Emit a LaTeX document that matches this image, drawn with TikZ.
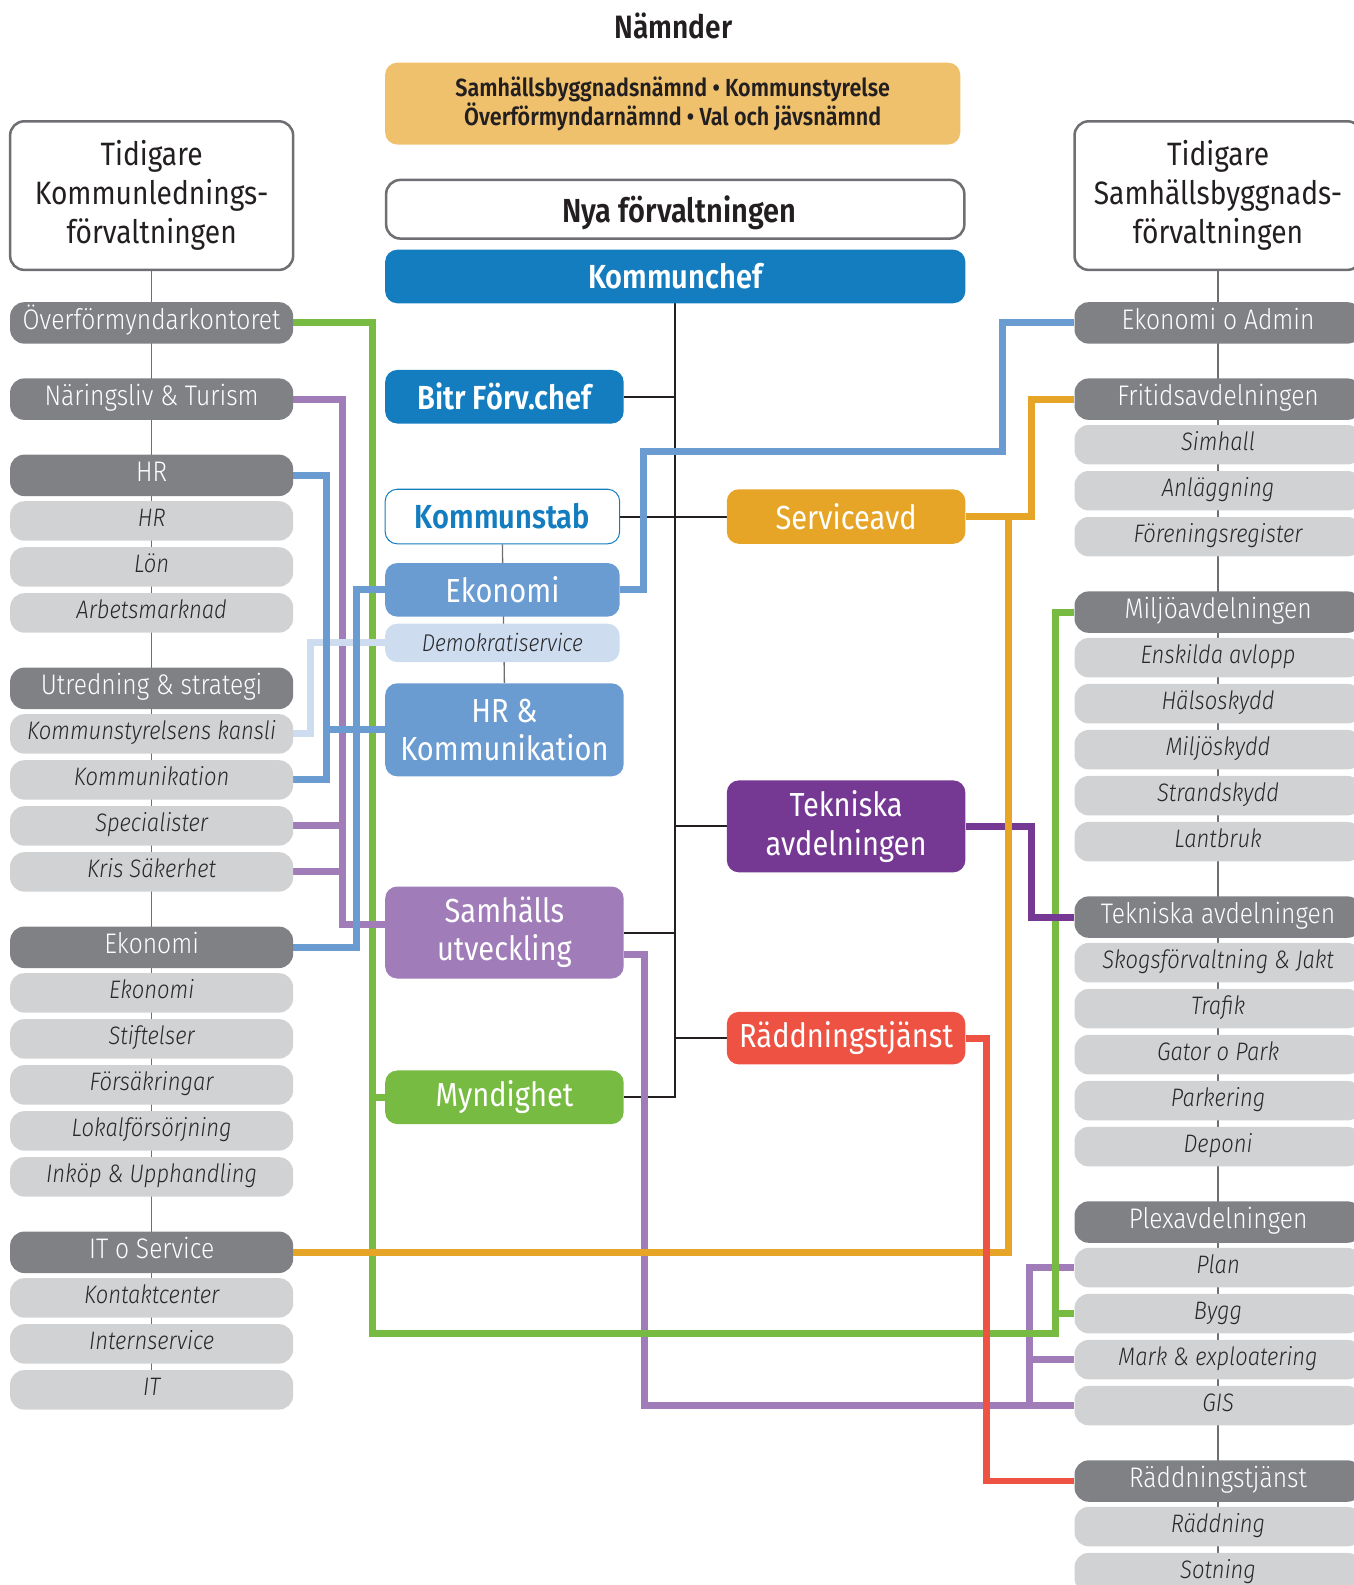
\documentclass[tikz,border=0pt]{standalone}
\usepackage{fontspec}
\setmainfont{Fira Sans}[FakeStretch=0.87, UprightFont=* Light, ItalicFont=* Light Italic, BoldFont=* SemiBold]
\newfontfamily\regfont{Fira Sans}[FakeStretch=0.87]
\usepackage{tikz}
\usetikzlibrary{positioning,backgrounds}

\definecolor{deptGray}{RGB}{128,129,133}
\definecolor{unitGray}{RGB}{209,210,212}
\definecolor{textGray}{RGB}{40,40,42}
\definecolor{frameGray}{RGB}{110,111,114}
\definecolor{inkBlack}{RGB}{35,31,32}
\definecolor{boardOrange}{RGB}{240,193,108}
\definecolor{chefBlue}{RGB}{19,125,192}
\definecolor{stabBlue}{RGB}{106,155,209}
\definecolor{paleBlue}{RGB}{206,220,239}
\definecolor{serviceOrange}{RGB}{231,165,40}
\definecolor{tekPurple}{RGB}{117,57,148}
\definecolor{samPurple}{RGB}{160,124,185}
\definecolor{rescueRed}{RGB}{238,82,66}
\definecolor{myndGreen}{RGB}{120,187,66}

\tikzset{
  oldOrg/.style={draw=frameGray, line width=2.5pt, rounded corners=14pt, fill=white, minimum height=147pt, inner sep=0pt, align=center, text=inkBlack, font=\regfont\fontsize{32}{38.5}\selectfont},
  dept/.style={fill=deptGray, rounded corners=14pt, minimum width=280pt, minimum height=41pt, inner sep=0pt, text=white, font=\fontsize{28}{32}\selectfont, text height=19pt, text depth=6pt},
  unit/.style={fill=unitGray, rounded corners=14pt, minimum width=280pt, minimum height=39pt, inner sep=0pt, text=textGray, font=\itshape\fontsize{25}{29}\selectfont, text height=17pt, text depth=5.5pt},
  rCol/.style={minimum width=284pt},
  newBox/.style={rounded corners=12pt, minimum height=53pt, inner sep=0pt, text=white, align=center, font=\regfont\fontsize{33}{38}\selectfont},
  boldBox/.style={font=\bfseries\fontsize{33}{38}\selectfont},
  link/.style={line width=6.8pt},
  tree/.style={line width=2pt, inkBlack},
  colLine/.style={line width=1.3pt, frameGray},
}

\begin{document}
\begin{tikzpicture}[x=1pt, y=-1pt]
    \useasboundingbox (0,0) rectangle (1339,1568);

    % top of the new organisation
    \node[font=\bfseries\fontsize{32}{36}\selectfont, text=inkBlack] (naemnder) at (666,26) {Nämnder};
    \node[fill=boardOrange, rounded corners=12pt, minimum width=569pt, minimum height=81pt, align=center, text=inkBlack, font=\bfseries\fontsize{24.5}{29}\selectfont] (boards) at (665.5,102.5) {Samhällsbyggnadsnämnd • Kommunstyrelse\\Överförmyndarnämnd • Val och jävsnämnd};
    \node[draw=frameGray, line width=2.5pt, rounded corners=14pt, minimum width=572pt, minimum height=58pt, text height=26pt, text depth=0pt, text=inkBlack, font=\bfseries\fontsize{33}{38}\selectfont] (nyaForv) at (668,207) {\hspace*{8pt}Nya förvaltningen};
    \node[newBox, boldBox, fill=chefBlue, minimum width=574pt] (kChef) at (668,273.5) {Kommunchef};

    \node[newBox, boldBox, fill=chefBlue, minimum width=236pt] (bitrChef) at (499,392.5) {Bitr Förv.chef};
    \node[newBox, boldBox, draw=chefBlue, line width=1pt, fill=white, text=chefBlue, minimum width=232pt, minimum height=54pt] (kStab) at (497,511) {Kommunstab};
    \node[newBox, fill=stabBlue, minimum width=232pt] (ekoStab) at (497,583.5) {Ekonomi};
    \node[newBox, fill=paleBlue, minimum width=232pt, minimum height=38pt, text=textGray, font=\itshape\fontsize{24}{28}\selectfont] (demoServ) at (497,636) {Demokratiservice};
    \node[newBox, fill=stabBlue, minimum width=236pt, minimum height=92pt] (hrKomm) at (499,722) {HR \&\\Kommunikation};
    \node[newBox, fill=samPurple, minimum width=236pt, minimum height=91pt] (samhUtv) at (499,922.5) {Samhälls\\utveckling};
    \node[newBox, fill=myndGreen, minimum width=236pt] (mynd) at (499,1085.5) {Myndighet};
    \node[newBox, fill=serviceOrange, minimum width=236pt, minimum height=54pt] (servAvd) at (837,511) {Serviceavd};
    \node[newBox, fill=tekPurple, minimum width=236pt, minimum height=91pt] (teknAvd) at (837,817.5) {Tekniska\\avdelningen};
    \node[newBox, fill=rescueRed, minimum width=236pt, minimum height=52pt] (raddAvd) at (837,1027) {Räddningstjänst};

    % former Kommunledningsförvaltningen
    \node[oldOrg, minimum width=280pt] (tidKL) at (150,193.5) {Tidigare\\Kommunlednings-\\förvaltningen};
    \node[dept, below=30.5pt of tidKL] (ovkDept) {Överförmyndarkontoret};
    \node[dept, below=34pt of ovkDept] (narDept) {Näringsliv \& Turism};
    \node[dept, below=34pt of narDept] (hrDept) {HR};
    \node[unit, below=4.7pt of hrDept] (hrUnit) {HR};
    \node[unit, below=6.1pt of hrUnit] (lonUnit) {Lön};
    \node[unit, below=6.1pt of lonUnit] (arbUnit) {Arbetsmarknad};
    \node[dept, below=34.2pt of arbUnit] (utrDept) {Utredning \& strategi};
    \node[unit, below=4.7pt of utrDept] (kskUnit) {Kommunstyrelsens kansli};
    \node[unit, below=6.1pt of kskUnit] (kommUnit) {Kommunikation};
    \node[unit, below=6.1pt of kommUnit] (specUnit) {Specialister};
    \node[unit, below=6.1pt of specUnit] (krisUnit) {Kris Säkerhet};
    \node[dept, below=34.2pt of krisUnit] (ekoDept) {Ekonomi};
    \node[unit, below=4.7pt of ekoDept] (ekoUnit) {Ekonomi};
    \node[unit, below=6.1pt of ekoUnit] (stiftUnit) {Stiftelser};
    \node[unit, below=6.1pt of stiftUnit] (forsUnit) {Försäkringar};
    \node[unit, below=6.1pt of forsUnit] (lokUnit) {Lokalförsörjning};
    \node[unit, below=6.1pt of lokUnit] (inkUnit) {Inköp \& Upphandling};
    \node[dept, below=34.2pt of inkUnit] (itDept) {IT o Service};
    \node[unit, below=4.7pt of itDept] (kontUnit) {Kontaktcenter};
    \node[unit, below=6.1pt of kontUnit] (internUnit) {Internservice};
    \node[unit, below=6.1pt of internUnit] (itUnit) {IT};

    % former Samhällsbyggnadsförvaltningen
    \node[oldOrg, rCol] (tidSB) at (1205,193.5) {Tidigare\\Samhällsbyggnads-\\förvaltningen};
    \node[dept, rCol, below=30.5pt of tidSB] (ekoAdm) {Ekonomi o Admin};
    \node[dept, rCol, below=34pt of ekoAdm] (fritDept) {Fritidsavdelningen};
    \node[unit, rCol, below=4.7pt of fritDept] (simhUnit) {Simhall};
    \node[unit, rCol, below=6.1pt of simhUnit] (anlUnit) {Anläggning};
    \node[unit, rCol, below=6.1pt of anlUnit] (forenUnit) {Föreningsregister};
    \node[dept, rCol, below=34.2pt of forenUnit] (miljoDept) {Miljöavdelningen};
    \node[unit, rCol, below=4.7pt of miljoDept] (enskUnit) {Enskilda avlopp};
    \node[unit, rCol, below=6.1pt of enskUnit] (halsUnit) {Hälsoskydd};
    \node[unit, rCol, below=6.1pt of halsUnit] (miljsUnit) {Miljöskydd};
    \node[unit, rCol, below=6.1pt of miljsUnit] (strandUnit) {Strandskydd};
    \node[unit, rCol, below=6.1pt of strandUnit] (lantUnit) {Lantbruk};
    \node[dept, rCol, below=34.2pt of lantUnit] (teknDept) {Tekniska avdelningen};
    \node[unit, rCol, below=4.7pt of teknDept] (skogUnit) {Skogsförvaltning \& Jakt};
    \node[unit, rCol, below=6.1pt of skogUnit] (trafUnit) {Trafik};
    \node[unit, rCol, below=6.1pt of trafUnit] (gatorUnit) {Gator o Park};
    \node[unit, rCol, below=6.1pt of gatorUnit] (parkUnit) {Parkering};
    \node[unit, rCol, below=6.1pt of parkUnit] (depoUnit) {Deponi};
    \node[dept, rCol, below=34.2pt of depoUnit] (plexDept) {Plexavdelningen};
    \node[unit, rCol, below=4.7pt of plexDept] (planUnit) {Plan};
    \node[unit, rCol, below=6.1pt of planUnit] (byggUnit) {Bygg};
    \node[unit, rCol, below=6.1pt of byggUnit] (markUnit) {Mark \& exploatering};
    \node[unit, rCol, below=6.1pt of markUnit] (gisUnit) {GIS};
    \node[dept, rCol, below=34.2pt of gisUnit] (raddDept) {Räddningstjänst};
    \node[unit, rCol, below=4.7pt of raddDept] (raddnUnit) {Räddning};
    \node[unit, rCol, below=6.1pt of raddnUnit] (sotUnit) {Sotning};

    % where the coloured tracks turn
    \coordinate (grnLeft) at (368.6,1319);
    \coordinate (grnRight) at (1043.8,1319);
    \coordinate (purLeft) at (338.6,915);
    \coordinate (bluHR) at (322.8,700);
    \coordinate (paleTrack) at (307.3,680);
    \coordinate (bluEko) at (352.4,760);
    \coordinate (bluUp) at (636.3,446.8);
    \coordinate (bluTop) at (991.8,446.8);
    \coordinate (oraUp) at (1020.4,450);
    \coordinate (oraDown) at (997.4,511);
    \coordinate (tekTrack) at (1020.8,860);
    \coordinate (samTrack) at (638,944.6);
    \coordinate (plexTrack) at (1018.4,1300);
    \coordinate (redTrack) at (975.6,1200);

    \begin{pgfonlayer}{background}
    \draw[colLine] (tidKL.south) -- (itUnit.center);
    \draw[colLine] (tidSB.south) -- (sotUnit.center);
    \draw[colLine] (kStab.south) -- (hrKomm.north);

    \draw[tree] (kChef.south) |- (mynd.east);
    \draw[tree] (bitrChef.east) -- (bitrChef.east -| kChef.south);
    \draw[tree] (kStab.east) -- (servAvd.west);
    \draw[tree] (teknAvd.west) -- (teknAvd.west -| kChef.south);
    \draw[tree] (samhUtv.east) -- (samhUtv.east -| kChef.south);
    \draw[tree] (raddAvd.west) -- (raddAvd.west -| kChef.south);

    \draw[link, samPurple] (samTrack -| samhUtv.east) -- (samTrack) |- (gisUnit.west);
    \draw[link, samPurple] (planUnit.west) -| (plexTrack) |- (gisUnit.west);
    \draw[link, samPurple] (plexTrack |- markUnit.west) -- (markUnit.west);
    \draw[link, myndGreen] (ovkDept.east) -| (grnLeft) -- (grnRight) |- (miljoDept.west);
    \draw[link, myndGreen] (grnLeft |- mynd.west) -- (mynd.west);
    \draw[link, myndGreen] (grnRight |- byggUnit.west) -- (byggUnit.west);
    \draw[link, samPurple] (narDept.east) -| (purLeft) -- (purLeft -| samhUtv.west);
    \draw[link, samPurple] (specUnit.east) -- (specUnit.east -| purLeft);
    \draw[link, samPurple] (krisUnit.east) -- (krisUnit.east -| purLeft);
    \draw[link, paleBlue] (demoServ.west) -| (paleTrack) |- (kskUnit.east);
    \draw[link, stabBlue] (hrDept.east) -| (bluHR) |- (kommUnit.east);
    \draw[link, stabBlue] (bluHR |- hrKomm.west) -- (hrKomm.west);
    \draw[link, stabBlue] (ekoDept.east) -| (bluEko) |- (ekoStab.west);
    \draw[link, stabBlue] (ekoStab.east) -| (bluUp) -- (bluTop) |- (ekoAdm.west);
    \draw[link, tekPurple] (teknAvd.east) -| (tekTrack) |- (teknDept.west);
    \draw[link, serviceOrange] (servAvd.east) -| (oraUp) |- (fritDept.west);
    \draw[link, serviceOrange] (itDept.east) -| (oraDown) -- (servAvd.east);
    \draw[link, rescueRed] (raddAvd.east) -| (redTrack) |- (raddDept.west);
    \end{pgfonlayer}
\end{tikzpicture}
\end{document}
